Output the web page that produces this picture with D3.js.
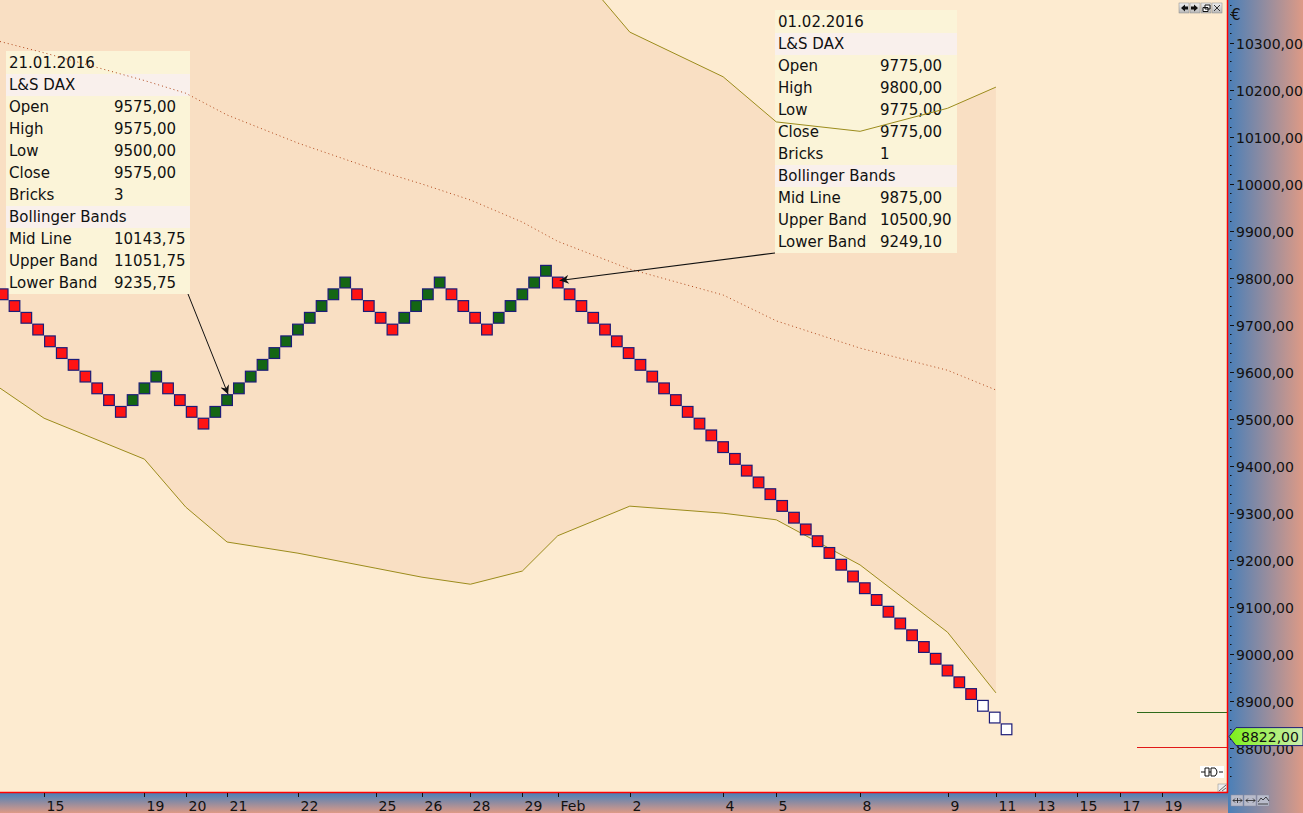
<!DOCTYPE html>
<html><head><meta charset="utf-8">
<script src="https://cdn.jsdelivr.net/npm/d3@7"></script>
<style>html,body{margin:0;padding:0;overflow:hidden;background:#fdebd0}</style>
</head><body>
<script>
// ---------------- DATA ----------------
const boxSize = 25;
// lower edge of each Renko brick (index = brick number)
const brickLows = [
  9750,9725,9700,9675,9650,9625,9600,9575,9550,9525,9500,
  9525,9550,9575,
  9550,9525,9500,9475,
  9500,9525,9550,9575,9600,9625,9650,9675,9700,9725,9750,9775,
  9750,9725,9700,9675,
  9700,9725,9750,9775,
  9750,9725,9700,9675,
  9700,9725,9750,9775,9800,
  9775,9750,9725,9700,9675,9650,9625,9600,9575,9550,9525,9500,9475,9450,9425,9400,9375,9350,
  9325,9300,9275,9250,9225,9200,9175,9150,9125,9100,9075,9050,9025,9000,8975,8950,8925,8900,
  8875,8850,8825
];
// D = falling brick, U = rising brick, P = pending brick
const brickDirs = [
  "D","D","D","D","D","D","D","D","D","D","D",
  "U","U","U",
  "D","D","D","D",
  "U","U","U","U","U","U","U","U","U","U","U","U",
  "D","D","D","D",
  "U","U","U","U",
  "D","D","D","D",
  "U","U","U","U","U",
  "D","D","D","D","D","D","D","D","D","D","D","D","D","D","D","D","D","D",
  "D","D","D","D","D","D","D","D","D","D","D","D","D","D","D","D","D","D",
  "P","P","P"
];
// date axis (positions in brick units)
const dayLabels = ["15","19","20","21","22","25","26","28","29","Feb","2","4","5","8","9","11","13","15","17","19"];
const dayPos    = [3.5,12,15.5,19,25,31.6,35.5,39.6,44,47,53.1,61,65.5,72.6,80,84.1,87.4,91,94.6,98.2];
// Bollinger bands (daily, positions in brick units)
const bandPos   = [-0.23,3.5,12,15.5,19,25,31.6,35.5,39.6,44,47,53.1,61,65.5,72.6,80,84.1];
const bandMid   = [10300,10276,10217,10190,10143.75,10084,10027,9997,9963,9916,9875,9816,9761,9706,9648,9601,9559];
const bandLower = [9563,9499,9412,9310,9235.75,9212,9180,9161,9146,9174,9249.1,9312,9297,9283,9187,9044,8915];
const bandUpper = [11037,11053,11022,11070,11051.75,10956,10874,10833,10780,10658,10500.9,10320,10225,10129,10109,10158,10203];
// y axis
const yTicks = [8800,8900,9000,9100,9200,9300,9400,9500,9600,9700,9800,9900,10000,10100,10200,10300];
const lastPrice = 8822;
const reversalUp = 8875, reversalDown = 8800;
// tooltips
const tip1Rows = [["21.01.2016",""],["L&S DAX",""],["Open","9575,00"],["High","9575,00"],["Low","9500,00"],["Close","9575,00"],["Bricks","3"],["Bollinger Bands",""],["Mid Line","10143,75"],["Upper Band","11051,75"],["Lower Band","9235,75"]];
const tip2Rows = [["01.02.2016",""],["L&S DAX",""],["Open","9775,00"],["High","9800,00"],["Low","9775,00"],["Close","9775,00"],["Bricks","1"],["Bollinger Bands",""],["Mid Line","9875,00"],["Upper Band","10500,90"],["Lower Band","9249,10"]];
const tip1Brick = 19, tip2Brick = 47;

// ---------------- CHART ----------------
const W=1303,H=813, plotR=1227, plotB=792;
const FONT="'DejaVu Sans', Verdana, sans-serif";
const svg=d3.select("body").append("svg").attr("width",W).attr("height",H).style("display","block");
const defs=svg.append("defs");
const gR=defs.append("linearGradient").attr("id","gR").attr("x1",0).attr("x2",1).attr("y1",0).attr("y2",0);
gR.append("stop").attr("offset",0).attr("stop-color","#4a7fb8");
gR.append("stop").attr("offset",1).attr("stop-color","#dd9a86");
const gB=defs.append("linearGradient").attr("id","gB").attr("x1",0).attr("x2",0).attr("y1",0).attr("y2",1);
gB.append("stop").attr("offset",0).attr("stop-color","#4a7fb8");
gB.append("stop").attr("offset",1).attr("stop-color","#dd9a86");
const gP=defs.append("linearGradient").attr("id","gP").attr("x1",0).attr("x2",1).attr("y1",0).attr("y2",0);
gP.append("stop").attr("offset",0).attr("stop-color","#7cf018");
gP.append("stop").attr("offset",1).attr("stop-color","#cdeeb0");
const gBtn=defs.append("linearGradient").attr("id","gBtn").attr("x1",0).attr("x2",0).attr("y1",0).attr("y2",1);
gBtn.append("stop").attr("offset",0).attr("stop-color","#f0f0f0");
gBtn.append("stop").attr("offset",1).attr("stop-color","#b8b8b8");
defs.append("clipPath").attr("id","clip").append("rect").attr("width",plotR).attr("height",plotB);
defs.append("marker").attr("id","arr").attr("viewBox","0 0 10 10").attr("refX",10).attr("refY",5)
  .attr("markerWidth",10).attr("markerHeight",9).attr("markerUnits","userSpaceOnUse").attr("orient","auto")
  .append("path").attr("d","M0,0 L10,5 L0,10 L3,5 Z").attr("fill","#111");

const x=d3.scaleLinear().domain([0,85]).range([2.7,2.7+85*11.81]);
const y=d3.scaleLinear().domain([8800,10300]).range([746.95,41.5]);

svg.append("rect").attr("width",plotR).attr("height",plotB).attr("fill","#fdebd0");
const g=svg.append("g").attr("clip-path","url(#clip)");
const band=bandPos.map((p,i)=>({p,m:bandMid[i],l:bandLower[i],u:bandUpper[i]}));
g.append("path").datum(band).attr("fill","#f9dfc3")
  .attr("d",d3.area().x(d=>x(d.p)).y0(d=>y(d.l)).y1(d=>y(d.u)));

// tooltips
function tooltip(rows,bx,by,bw,valX){
  const t=g.append("g");
  const rh=22;
  t.append("rect").attr("x",bx).attr("y",by).attr("width",bw).attr("height",rows.length*rh+1).attr("fill","#fbf4d8");
  rows.forEach((r,i)=>{
    if(i===1||i===7) t.append("rect").attr("x",bx).attr("y",by+i*rh+1).attr("width",bw).attr("height",rh).attr("fill","#f9f0ec");
    t.append("text").attr("x",bx+3).attr("y",by+i*rh+17).text(r[0]);
    if(r[1]) t.append("text").attr("x",valX).attr("y",by+i*rh+17).text(r[1]);
  });
  t.selectAll("text").attr("font-family",FONT).attr("font-size",15).attr("fill","#111");
  return {x:bx,y:by,w:bw,h:rows.length*rh+1};
}
const b1=tooltip(tip1Rows,6,51,184,114);
const b2=tooltip(tip2Rows,775,10,182,880);

// band lines
const line=k=>d3.line().x(d=>x(d.p)).y(d=>y(d[k]));
g.append("path").datum(band).attr("d",line("u")).attr("fill","none").attr("stroke","#9c8c1c").attr("stroke-width",1);
g.append("path").datum(band).attr("d",line("l")).attr("fill","none").attr("stroke","#9c8c1c").attr("stroke-width",1);
g.append("path").datum(band).attr("d",line("m")).attr("fill","none").attr("stroke","#b0481c").attr("stroke-width",1).attr("stroke-dasharray","1,3");

// bricks
const bw=11.81-1.2, bh=y(0)-y(boxSize);
const bricks=brickLows.map((lo,i)=>({i,lo,dir:brickDirs[i]}));
g.selectAll("rect.brick").data(bricks).enter().append("rect").attr("class","brick")
  .attr("x",d=>x(d.i)-bw/2).attr("y",d=>y(d.lo+boxSize)+0.5).attr("width",bw).attr("height",bh-1)
  .attr("fill",d=>d.dir==="U"?"#146614":d.dir==="D"?"#ff1414":"#ffffff")
  .attr("stroke","#1c1c78").attr("stroke-width",1.2);

// arrows
const br1=bricks[tip1Brick], br2=bricks[tip2Brick];
g.append("line").attr("x1",b1.x+b1.w-2).attr("y1",b1.y+b1.h).attr("x2",x(br1.i)+1).attr("y2",y(br1.lo+boxSize))
  .attr("stroke","#111").attr("stroke-width",1).attr("marker-end","url(#arr)");
g.append("line").attr("x1",b2.x).attr("y1",b2.y+b2.h).attr("x2",x(br2.i)+2).attr("y2",y(br2.lo+boxSize/2)-2)
  .attr("stroke","#111").attr("stroke-width",1.2).attr("marker-end","url(#arr)");

// reversal lines
svg.append("line").attr("x1",1137).attr("x2",plotR).attr("y1",Math.round(y(reversalUp))+0.5).attr("y2",Math.round(y(reversalUp))+0.5).attr("stroke","#2e6a1a");
svg.append("line").attr("x1",1137).attr("x2",plotR).attr("y1",Math.round(y(reversalDown))+0.5).attr("y2",Math.round(y(reversalDown))+0.5).attr("stroke","#e01818");

// small icons in plot
svg.append("rect").attr("x",1200).attr("y",766).attr("width",24).attr("height",12).attr("fill","#fff");
svg.append("path").attr("d","M1201,772 H1205 M1205,768 H1209 V776 H1205 Z M1211,768 H1215 Q1219,772 1215,776 H1211 Z M1209,772 H1211 M1219,772 H1223")
  .attr("fill","none").attr("stroke","#111").attr("stroke-width",1);
svg.append("rect").attr("x",1218).attr("y",784).attr("width",9).attr("height",8).attr("fill","#eee").attr("stroke","#888").attr("stroke-width",0.5);
svg.append("path").attr("d","M1219,791 L1226,785 M1222,791 L1226,788").attr("stroke","#444").attr("stroke-width",0.8);

// window buttons top-right
const btnX=[1179,1190,1201,1212];
btnX.forEach((bx,i)=>{
  svg.append("rect").attr("x",bx).attr("y",3).attr("width",10).attr("height",10).attr("fill","url(#gBtn)").attr("stroke","#888").attr("stroke-width",0.5);
});
svg.append("path").attr("d","M1181,8 L1185,4.5 V6.5 H1188 V9.5 H1185 V11.5 Z").attr("fill","#111");
svg.append("path").attr("d","M1198,8 L1194,4.5 V6.5 H1191 V9.5 H1194 V11.5 Z").attr("fill","#111");
svg.append("path").attr("d","M1205,5 h5 v4 h-5 z M1203,7.5 h5 v4 h-5 z").attr("fill","#fff").attr("stroke","#111").attr("stroke-width",1);
svg.append("path").attr("d","M1214,5 L1220,11 M1220,5 L1214,11").attr("stroke","#333").attr("stroke-width",1);

// right axis
svg.append("rect").attr("x",plotR+1).attr("y",0).attr("width",W-plotR-1).attr("height",H).attr("fill","url(#gR)");
// bottom axis
svg.append("rect").attr("x",0).attr("y",plotB+1).attr("width",plotR+1).attr("height",H-plotB-1).attr("fill","url(#gB)");
// borders
svg.append("line").attr("x1",plotR+0.5).attr("x2",plotR+0.5).attr("y1",0).attr("y2",plotB+1).attr("stroke","#ff0000").attr("stroke-width",1.5);
svg.append("line").attr("x1",0).attr("x2",plotR+1).attr("y1",plotB+0.5).attr("y2",plotB+0.5).attr("stroke","#ff0000").attr("stroke-width",1.5);

// y axis ticks
const minor=d3.range(8740,10400,20);
svg.selectAll("line.ym").data(minor).enter().append("line")
  .attr("x1",1230).attr("x2",d=>d%100===0?1234:1231.5)
  .attr("y1",d=>Math.round(y(d))+1.5).attr("y2",d=>Math.round(y(d))+1.5)
  .attr("stroke","#111").attr("stroke-width",1);
svg.selectAll("text.yl").data(yTicks).enter().append("text")
  .attr("x",1236).attr("y",d=>y(d)+7).text(d=>d3.format(".2f")(d).replace(".",","))
  .attr("font-family",FONT).attr("font-size",14).attr("fill","#111");
svg.append("text").attr("x",1231).attr("y",20).text("€").attr("font-family",FONT).attr("font-size",15).attr("fill","#111");

// price label
const py=y(lastPrice);
svg.append("path").attr("d",`M1229,${py} L1236,${py-9} H1303 V${py+9} H1236 Z`).attr("fill","url(#gP)").attr("stroke","#1c1c78").attr("stroke-width",1);
svg.append("text").attr("x",1241).attr("y",py+5.5).text(d3.format(".2f")(lastPrice).replace(".",","))
  .attr("font-family",FONT).attr("font-size",14).attr("fill","#111");

// x axis
const xa=svg.append("g");
dayPos.forEach((p,i)=>{
  const xx=Math.round(x(p))+0.5;
  xa.append("line").attr("x1",xx).attr("x2",xx).attr("y1",plotB+1).attr("y2",plotB+5).attr("stroke","#111");
  xa.append("text").attr("x",xx+2).attr("y",811).text(dayLabels[i]).attr("font-family",FONT).attr("font-size",14).attr("fill","#111");
});

// bottom-right buttons
[1231,1244,1257].forEach((bx,i)=>{
  svg.append("rect").attr("x",bx).attr("y",795).attr("width",12).attr("height",11).attr("fill","#b9bccb").attr("stroke","#8a8ca0").attr("stroke-width",0.5);
});
svg.append("path").attr("d","M1233,800.5 H1242 M1233,800.5 l2,-2 M1233,800.5 l2,2 M1242,800.5 l-2,-2 M1242,800.5 l-2,2 M1237.5,798 v5")
  .attr("stroke","#222").attr("stroke-width",0.8).attr("fill","none");
svg.append("path").attr("d","M1246,800.5 H1255 M1246,800.5 l2,-2 M1246,800.5 l2,2 M1255,800.5 l-2,-2 M1255,800.5 l-2,2")
  .attr("stroke","#222").attr("stroke-width",0.8).attr("fill","none");
svg.append("path").attr("d","M1258,802 l3,-4 l2,2 l3,-3 l3,4 M1258,804 H1268")
  .attr("stroke","#222").attr("stroke-width",0.8).attr("fill","none");
</script>
</body></html>
